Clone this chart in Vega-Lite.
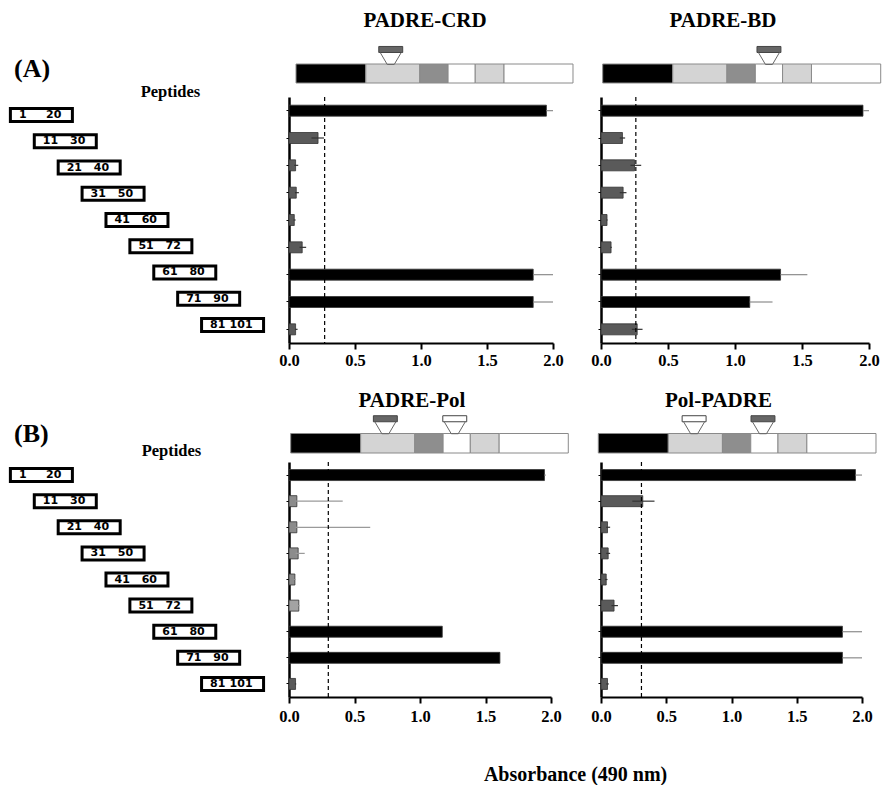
{
  "$schema": "https://vega.github.io/schema/vega-lite/v6.json",
  "background": "white",
  "padding": {"left": 8, "top": 10, "right": 2, "bottom": 2},
  "config": {"view": {"stroke": null}, "font": "Liberation Serif"},
  "title": {"text": "Absorbance (490 nm)", "orient": "bottom", "anchor": "middle", "dx": 131, "offset": 40, "fontSize": 20, "font": "Liberation Serif", "fontWeight": "bold", "color": "black"},
  "resolve": {"scale": {"fill": "independent"}},
  "datasets": {
    "peptides": [
      {"pep": "1-20", "start": 1, "end": 20},
      {"pep": "11-30", "start": 11, "end": 30},
      {"pep": "21-40", "start": 21, "end": 40},
      {"pep": "31-50", "start": 31, "end": 50},
      {"pep": "41-60", "start": 41, "end": 60},
      {"pep": "51-72", "start": 51, "end": 72},
      {"pep": "61-80", "start": 61, "end": 80},
      {"pep": "71-90", "start": 71, "end": 90},
      {"pep": "81-101", "start": 81, "end": 101}
    ],
    "bars": [
      {"panel": "PADRE-CRD", "pep": "1-20", "value": 1.95, "lo": 1.95, "hi": 2.0, "shade": "pos"},
      {"panel": "PADRE-CRD", "pep": "11-30", "value": 0.22, "lo": 0.17, "hi": 0.265, "shade": "neg"},
      {"panel": "PADRE-CRD", "pep": "21-40", "value": 0.05, "lo": 0.04, "hi": 0.07, "shade": "neg"},
      {"panel": "PADRE-CRD", "pep": "31-50", "value": 0.055, "lo": 0.045, "hi": 0.075, "shade": "neg"},
      {"panel": "PADRE-CRD", "pep": "41-60", "value": 0.04, "lo": 0.035, "hi": 0.05, "shade": "neg"},
      {"panel": "PADRE-CRD", "pep": "51-72", "value": 0.1, "lo": 0.08, "hi": 0.13, "shade": "neg"},
      {"panel": "PADRE-CRD", "pep": "61-80", "value": 1.85, "lo": 1.85, "hi": 2.0, "shade": "pos"},
      {"panel": "PADRE-CRD", "pep": "71-90", "value": 1.85, "lo": 1.85, "hi": 2.0, "shade": "pos"},
      {"panel": "PADRE-CRD", "pep": "81-101", "value": 0.05, "lo": 0.045, "hi": 0.065, "shade": "neg"},
      {"panel": "PADRE-BD", "pep": "1-20", "value": 1.955, "lo": 1.955, "hi": 2.0, "shade": "pos"},
      {"panel": "PADRE-BD", "pep": "11-30", "value": 0.16, "lo": 0.14, "hi": 0.18, "shade": "neg"},
      {"panel": "PADRE-BD", "pep": "21-40", "value": 0.25, "lo": 0.22, "hi": 0.3, "shade": "neg"},
      {"panel": "PADRE-BD", "pep": "31-50", "value": 0.165, "lo": 0.14, "hi": 0.19, "shade": "neg"},
      {"panel": "PADRE-BD", "pep": "41-60", "value": 0.045, "lo": 0.04, "hi": 0.05, "shade": "neg"},
      {"panel": "PADRE-BD", "pep": "51-72", "value": 0.075, "lo": 0.07, "hi": 0.08, "shade": "neg"},
      {"panel": "PADRE-BD", "pep": "61-80", "value": 1.34, "lo": 1.34, "hi": 1.54, "shade": "pos"},
      {"panel": "PADRE-BD", "pep": "71-90", "value": 1.11, "lo": 1.11, "hi": 1.28, "shade": "pos"},
      {"panel": "PADRE-BD", "pep": "81-101", "value": 0.27, "lo": 0.23, "hi": 0.31, "shade": "neg"},
      {"panel": "PADRE-Pol", "pep": "1-20", "value": 1.95, "lo": 1.95, "hi": 1.96, "shade": "pos"},
      {"panel": "PADRE-Pol", "pep": "11-30", "value": 0.06, "lo": 0.05, "hi": 0.41, "shade": "neg2"},
      {"panel": "PADRE-Pol", "pep": "21-40", "value": 0.06, "lo": 0.05, "hi": 0.62, "shade": "neg2"},
      {"panel": "PADRE-Pol", "pep": "31-50", "value": 0.07, "lo": 0.05, "hi": 0.12, "shade": "neg2"},
      {"panel": "PADRE-Pol", "pep": "41-60", "value": 0.045, "lo": 0.04, "hi": 0.05, "shade": "neg2"},
      {"panel": "PADRE-Pol", "pep": "51-72", "value": 0.075, "lo": 0.07, "hi": 0.08, "shade": "neg3"},
      {"panel": "PADRE-Pol", "pep": "61-80", "value": 1.17, "lo": 1.17, "hi": 1.17, "shade": "pos"},
      {"panel": "PADRE-Pol", "pep": "71-90", "value": 1.61, "lo": 1.61, "hi": 1.61, "shade": "pos"},
      {"panel": "PADRE-Pol", "pep": "81-101", "value": 0.05, "lo": 0.045, "hi": 0.055, "shade": "neg"},
      {"panel": "Pol-PADRE", "pep": "1-20", "value": 1.95, "lo": 1.95, "hi": 2.0, "shade": "pos"},
      {"panel": "Pol-PADRE", "pep": "11-30", "value": 0.32, "lo": 0.24, "hi": 0.41, "shade": "neg"},
      {"panel": "Pol-PADRE", "pep": "21-40", "value": 0.05, "lo": 0.04, "hi": 0.07, "shade": "neg"},
      {"panel": "Pol-PADRE", "pep": "31-50", "value": 0.055, "lo": 0.04, "hi": 0.07, "shade": "neg"},
      {"panel": "Pol-PADRE", "pep": "41-60", "value": 0.04, "lo": 0.03, "hi": 0.05, "shade": "neg"},
      {"panel": "Pol-PADRE", "pep": "51-72", "value": 0.1, "lo": 0.08, "hi": 0.13, "shade": "neg"},
      {"panel": "Pol-PADRE", "pep": "61-80", "value": 1.85, "lo": 1.85, "hi": 2.0, "shade": "pos"},
      {"panel": "Pol-PADRE", "pep": "71-90", "value": 1.85, "lo": 1.85, "hi": 2.0, "shade": "pos"},
      {"panel": "Pol-PADRE", "pep": "81-101", "value": 0.05, "lo": 0.04, "hi": 0.06, "shade": "neg"}
    ],
    "cutoffs": [
      {"panel": "PADRE-CRD", "cutoff": 0.27},
      {"panel": "PADRE-BD", "cutoff": 0.26},
      {"panel": "PADRE-Pol", "cutoff": 0.3},
      {"panel": "Pol-PADRE", "cutoff": 0.31}
    ],
    "segments": [
      {"from": 0, "to": 25.2, "shade": "black"},
      {"from": 25.2, "to": 44.7, "shade": "light"},
      {"from": 44.7, "to": 54.9, "shade": "mid"},
      {"from": 54.9, "to": 64.7, "shade": "white"},
      {"from": 64.7, "to": 75.1, "shade": "light"},
      {"from": 75.1, "to": 100, "shade": "white"}
    ],
    "markers": [
      {"panel": "PADRE-CRD", "kind": "PADRE", "pos": 34.2},
      {"panel": "PADRE-BD", "kind": "PADRE", "pos": 59.8},
      {"panel": "PADRE-Pol", "kind": "PADRE", "pos": 34.1},
      {"panel": "PADRE-Pol", "kind": "Pol", "pos": 59.1},
      {"panel": "Pol-PADRE", "kind": "Pol", "pos": 34.5},
      {"panel": "Pol-PADRE", "kind": "PADRE", "pos": 59.3}
    ]
  },
  "columns": 3,
  "align": "each",
  "bounds": "flush",
  "spacing": {"row": 9, "column": 48},
  "concat": [
    {"width": 233, "height": 10, "data": {"values": [{}]}, "mark": {"type": "text"}, "encoding": {"text": {"value": ""}}},
    {
      "width": 264, "height": 41,
      "title": {"text": "PADRE-CRD", "font": "Liberation Serif", "fontSize": 21, "fontWeight": "bold", "color": "black", "frame": "group", "anchor": "middle", "dx": 4, "offset": -4, "baseline": "alphabetic"},
      "layer": [
        {"data": {"name": "segments"}, "mark": {"type": "rect", "stroke": "#8a8a8a", "strokeWidth": 1},
         "encoding": {
           "x": {"field": "from", "type": "quantitative", "scale": {"domain": [-2.53, 92.78], "nice": false, "zero": false}, "axis": null},
           "x2": {"field": "to"},
           "y": {"datum": 0, "type": "quantitative", "scale": {"domain": [-0.263, 1.895], "nice": false, "zero": false}, "axis": null},
           "y2": {"datum": 1},
           "fill": {"field": "shade", "type": "nominal", "scale": {"domain": ["black", "light", "mid", "white"], "range": ["#000000", "#d4d4d4", "#8e8e8e", "#ffffff"]}, "legend": null}}},
        {"data": {"name": "markers"}, "transform": [{"filter": "datum.panel === 'PADRE-CRD'"}],
         "mark": {"type": "point", "shape": "M-1.33,-1L1.33,-1L1.33,-0.33L-1.33,-0.33Z", "size": 324, "filled": true, "opacity": 1, "stroke": "#444444", "strokeWidth": 1},
         "encoding": {"x": {"field": "pos", "type": "quantitative"}, "y": {"datum": 1.45, "type": "quantitative"},
           "color": {"field": "kind", "type": "nominal", "scale": {"domain": ["PADRE", "Pol"], "range": ["#666666", "#ffffff"]}, "legend": null}}},
        {"data": {"name": "markers"}, "transform": [{"filter": "datum.panel === 'PADRE-CRD'"}],
         "mark": {"type": "point", "shape": "M-1.17,-0.33L-0.39,1L0.39,1L1.17,-0.33", "size": 324, "filled": false, "opacity": 1, "stroke": "#666666", "strokeWidth": 1},
         "encoding": {"x": {"field": "pos", "type": "quantitative"}, "y": {"datum": 1.45, "type": "quantitative"}}}
      ]
    },
    {
      "width": 268, "height": 41,
      "title": {"text": "PADRE-BD", "font": "Liberation Serif", "fontSize": 21, "fontWeight": "bold", "color": "black", "frame": "group", "anchor": "middle", "dx": -12, "offset": -4, "baseline": "alphabetic"},
      "layer": [
        {"data": {"name": "segments"}, "mark": {"type": "rect", "stroke": "#8a8a8a", "strokeWidth": 1},
         "encoding": {
           "x": {"field": "from", "type": "quantitative", "scale": {"domain": [-0.61, 95.79], "nice": false, "zero": false}, "axis": null},
           "x2": {"field": "to"},
           "y": {"datum": 0, "type": "quantitative", "scale": {"domain": [-0.263, 1.895], "nice": false, "zero": false}, "axis": null},
           "y2": {"datum": 1},
           "fill": {"field": "shade", "type": "nominal", "scale": {"domain": ["black", "light", "mid", "white"], "range": ["#000000", "#d4d4d4", "#8e8e8e", "#ffffff"]}, "legend": null}}},
        {"data": {"name": "markers"}, "transform": [{"filter": "datum.panel === 'PADRE-BD'"}],
         "mark": {"type": "point", "shape": "M-1.33,-1L1.33,-1L1.33,-0.33L-1.33,-0.33Z", "size": 324, "filled": true, "opacity": 1, "stroke": "#444444", "strokeWidth": 1},
         "encoding": {"x": {"field": "pos", "type": "quantitative"}, "y": {"datum": 1.45, "type": "quantitative"},
           "color": {"field": "kind", "type": "nominal", "scale": {"domain": ["PADRE", "Pol"], "range": ["#666666", "#ffffff"]}, "legend": null}}},
        {"data": {"name": "markers"}, "transform": [{"filter": "datum.panel === 'PADRE-BD'"}],
         "mark": {"type": "point", "shape": "M-1.17,-0.33L-0.39,1L0.39,1L1.17,-0.33", "size": 324, "filled": false, "opacity": 1, "stroke": "#666666", "strokeWidth": 1},
         "encoding": {"x": {"field": "pos", "type": "quantitative"}, "y": {"datum": 1.45, "type": "quantitative"}}}
      ]
    },
    {
      "width": 233, "height": 246,
      "data": {"name": "peptides"},
      "title": {"text": "(A)", "anchor": "start", "frame": "group", "dx": 6, "offset": -19, "fontSize": 26, "font": "Liberation Serif", "fontWeight": "bold", "color": "black", "baseline": "alphabetic"},
      "encoding": {"y": {"field": "pep", "type": "nominal", "sort": null, "scale": {"paddingInner": 0, "paddingOuter": 0.186}, "axis": null}},
      "layer": [
        {"mark": {"type": "bar", "height": 13, "fill": "white", "stroke": "black", "strokeWidth": 3, "x2Offset": 62},
         "encoding": {
           "x": {"field": "start", "type": "quantitative", "scale": {"domain": [0, 97.5], "nice": false, "zero": false},
                 "axis": {"orient": "top", "title": "Peptides", "titleX": 162, "titleY": -0.5, "titleAlign": "center", "titleBaseline": "alphabetic", "titleFont": "Liberation Serif", "titleFontSize": 16.5, "titleFontWeight": "bold", "titleColor": "black", "labels": false, "ticks": false, "domain": false, "grid": false}},
           "x2": {"field": "start"}}},
        {"mark": {"type": "text", "align": "left", "baseline": "middle", "dx": 8.5, "font": "DejaVu Sans", "fontWeight": "bold", "fontSize": 11, "color": "black"},
         "encoding": {"x": {"field": "start", "type": "quantitative"}, "text": {"field": "start"}}},
        {"mark": {"type": "text", "align": "right", "baseline": "middle", "dx": 51, "font": "DejaVu Sans", "fontWeight": "bold", "fontSize": 11, "color": "black"},
         "encoding": {"x": {"field": "start", "type": "quantitative"}, "text": {"field": "end"}}}
      ]
    },
    {
      "width": 264, "height": 246,
      "layer": [
        {"data": {"name": "bars"}, "transform": [{"filter": "datum.panel === 'PADRE-CRD'"}],
         "mark": {"type": "bar", "height": 11, "stroke": "#333333", "strokeWidth": 0.8},
         "encoding": {
           "y": {"field": "pep", "type": "nominal", "sort": null, "scale": {"paddingInner": 0, "paddingOuter": 0},
                 "axis": {"labels": false, "title": null, "domainColor": "black", "domainWidth": 2.5, "tickColor": "black", "tickSize": 3, "tickWidth": 1, "grid": false}},
           "x": {"field": "value", "type": "quantitative", "scale": {"domain": [0, 2], "nice": false},
                 "axis": {"values": [0, 0.5, 1, 1.5, 2], "format": ".1f", "title": null, "grid": false, "domainColor": "black", "domainWidth": 2, "tickColor": "black", "tickWidth": 2, "tickSize": 6, "labelFont": "Liberation Serif", "labelFontWeight": "bold", "labelFontSize": 16.5, "labelColor": "black", "labelPadding": 3, "labelFlush": false, "labelOverlap": false}},
           "fill": {"field": "shade", "type": "nominal", "scale": {"domain": ["pos", "neg", "neg2", "neg3"], "range": ["#000000", "#5a5a5a", "#8c8c8c", "#a3a3a3"]}, "legend": null}}},
        {"data": {"name": "bars"}, "transform": [{"filter": "datum.panel === 'PADRE-CRD'"}],
         "mark": {"type": "rule", "strokeWidth": 1.2},
         "encoding": {
           "y": {"field": "pep", "type": "nominal", "sort": null},
           "x": {"field": "lo", "type": "quantitative"}, "x2": {"field": "hi"},
           "stroke": {"field": "shade", "type": "nominal", "scale": {"domain": ["pos", "neg", "neg2", "neg3"], "range": ["#8c8c8c", "#333333", "#9a9a9a", "#9a9a9a"]}, "legend": null}}},
        {"data": {"name": "cutoffs"}, "transform": [{"filter": "datum.panel === 'PADRE-CRD'"}],
         "mark": {"type": "rule", "strokeDash": [4, 3], "color": "black", "strokeWidth": 1.2},
         "encoding": {"x": {"field": "cutoff", "type": "quantitative"}}}
      ]
    },
    {
      "width": 268, "height": 246,
      "layer": [
        {"data": {"name": "bars"}, "transform": [{"filter": "datum.panel === 'PADRE-BD'"}],
         "mark": {"type": "bar", "height": 11, "stroke": "#333333", "strokeWidth": 0.8},
         "encoding": {
           "y": {"field": "pep", "type": "nominal", "sort": null, "scale": {"paddingInner": 0, "paddingOuter": 0},
                 "axis": {"labels": false, "title": null, "domainColor": "black", "domainWidth": 2.5, "tickColor": "black", "tickSize": 3, "tickWidth": 1, "grid": false}},
           "x": {"field": "value", "type": "quantitative", "scale": {"domain": [0, 2], "nice": false},
                 "axis": {"values": [0, 0.5, 1, 1.5, 2], "format": ".1f", "title": null, "grid": false, "domainColor": "black", "domainWidth": 2, "tickColor": "black", "tickWidth": 2, "tickSize": 6, "labelFont": "Liberation Serif", "labelFontWeight": "bold", "labelFontSize": 16.5, "labelColor": "black", "labelPadding": 3, "labelFlush": false, "labelOverlap": false}},
           "fill": {"field": "shade", "type": "nominal", "scale": {"domain": ["pos", "neg", "neg2", "neg3"], "range": ["#000000", "#5a5a5a", "#8c8c8c", "#a3a3a3"]}, "legend": null}}},
        {"data": {"name": "bars"}, "transform": [{"filter": "datum.panel === 'PADRE-BD'"}],
         "mark": {"type": "rule", "strokeWidth": 1.2},
         "encoding": {
           "y": {"field": "pep", "type": "nominal", "sort": null},
           "x": {"field": "lo", "type": "quantitative"}, "x2": {"field": "hi"},
           "stroke": {"field": "shade", "type": "nominal", "scale": {"domain": ["pos", "neg", "neg2", "neg3"], "range": ["#8c8c8c", "#333333", "#9a9a9a", "#9a9a9a"]}, "legend": null}}},
        {"data": {"name": "cutoffs"}, "transform": [{"filter": "datum.panel === 'PADRE-BD'"}],
         "mark": {"type": "rule", "strokeDash": [4, 3], "color": "black", "strokeWidth": 1.2},
         "encoding": {"x": {"field": "cutoff", "type": "quantitative"}}}
      ]
    },
    {"width": 233, "height": 10, "data": {"values": [{}]}, "mark": {"type": "text"}, "encoding": {"text": {"value": ""}}},
    {
      "width": 262, "height": 101,
      "title": {"text": "PADRE-Pol", "font": "Liberation Serif", "fontSize": 21, "fontWeight": "bold", "color": "black", "frame": "group", "anchor": "middle", "dx": -8, "dy": 72, "offset": -4, "baseline": "alphabetic"},
      "layer": [
        {"data": {"name": "segments"}, "mark": {"type": "rect", "stroke": "#8a8a8a", "strokeWidth": 1},
         "encoding": {
           "x": {"field": "from", "type": "quantitative", "scale": {"domain": [-0.61, 93.77], "nice": false, "zero": false}, "axis": null},
           "x2": {"field": "to"},
           "y": {"datum": 0, "type": "quantitative", "scale": {"domain": [0, 5.18], "nice": false, "zero": false}, "axis": null},
           "y2": {"datum": 1},
           "fill": {"field": "shade", "type": "nominal", "scale": {"domain": ["black", "light", "mid", "white"], "range": ["#000000", "#d4d4d4", "#8e8e8e", "#ffffff"]}, "legend": null}}},
        {"data": {"name": "markers"}, "transform": [{"filter": "datum.panel === 'PADRE-Pol'"}],
         "mark": {"type": "point", "shape": "M-1.33,-1L1.33,-1L1.33,-0.33L-1.33,-0.33Z", "size": 324, "filled": true, "opacity": 1, "stroke": "#444444", "strokeWidth": 1},
         "encoding": {"x": {"field": "pos", "type": "quantitative"}, "y": {"datum": 1.45, "type": "quantitative"},
           "color": {"field": "kind", "type": "nominal", "scale": {"domain": ["PADRE", "Pol"], "range": ["#666666", "#ffffff"]}, "legend": null}}},
        {"data": {"name": "markers"}, "transform": [{"filter": "datum.panel === 'PADRE-Pol'"}],
         "mark": {"type": "point", "shape": "M-1.17,-0.33L-0.39,1L0.39,1L1.17,-0.33", "size": 324, "filled": false, "opacity": 1, "stroke": "#666666", "strokeWidth": 1},
         "encoding": {"x": {"field": "pos", "type": "quantitative"}, "y": {"datum": 1.45, "type": "quantitative"}}}
      ]
    },
    {
      "width": 261, "height": 101,
      "title": {"text": "Pol-PADRE", "font": "Liberation Serif", "fontSize": 21, "fontWeight": "bold", "color": "black", "frame": "group", "anchor": "middle", "dx": -13, "dy": 72, "offset": -4, "baseline": "alphabetic"},
      "layer": [
        {"data": {"name": "segments"}, "mark": {"type": "rect", "stroke": "#8a8a8a", "strokeWidth": 1},
         "encoding": {
           "x": {"field": "from", "type": "quantitative", "scale": {"domain": [0.97, 94.96], "nice": false, "zero": false}, "axis": null},
           "x2": {"field": "to"},
           "y": {"datum": 0, "type": "quantitative", "scale": {"domain": [0, 5.18], "nice": false, "zero": false}, "axis": null},
           "y2": {"datum": 1},
           "fill": {"field": "shade", "type": "nominal", "scale": {"domain": ["black", "light", "mid", "white"], "range": ["#000000", "#d4d4d4", "#8e8e8e", "#ffffff"]}, "legend": null}}},
        {"data": {"name": "markers"}, "transform": [{"filter": "datum.panel === 'Pol-PADRE'"}],
         "mark": {"type": "point", "shape": "M-1.33,-1L1.33,-1L1.33,-0.33L-1.33,-0.33Z", "size": 324, "filled": true, "opacity": 1, "stroke": "#444444", "strokeWidth": 1},
         "encoding": {"x": {"field": "pos", "type": "quantitative"}, "y": {"datum": 1.45, "type": "quantitative"},
           "color": {"field": "kind", "type": "nominal", "scale": {"domain": ["PADRE", "Pol"], "range": ["#666666", "#ffffff"]}, "legend": null}}},
        {"data": {"name": "markers"}, "transform": [{"filter": "datum.panel === 'Pol-PADRE'"}],
         "mark": {"type": "point", "shape": "M-1.17,-0.33L-0.39,1L0.39,1L1.17,-0.33", "size": 324, "filled": false, "opacity": 1, "stroke": "#666666", "strokeWidth": 1},
         "encoding": {"x": {"field": "pos", "type": "quantitative"}, "y": {"datum": 1.45, "type": "quantitative"}}}
      ]
    },
    {
      "width": 233, "height": 235,
      "data": {"name": "peptides"},
      "title": {"text": "(B)", "anchor": "start", "frame": "group", "dx": 6, "offset": -26, "fontSize": 26, "font": "Liberation Serif", "fontWeight": "bold", "color": "black", "baseline": "alphabetic"},
      "encoding": {"y": {"field": "pep", "type": "nominal", "sort": null, "scale": {"paddingInner": 0, "paddingOuter": 0}, "axis": null}},
      "layer": [
        {"mark": {"type": "bar", "height": 13, "fill": "white", "stroke": "black", "strokeWidth": 3, "x2Offset": 62},
         "encoding": {
           "x": {"field": "start", "type": "quantitative", "scale": {"domain": [0, 97.5], "nice": false, "zero": false},
                 "axis": {"orient": "top", "title": "Peptides", "titleX": 163, "titleY": -7, "titleAlign": "center", "titleBaseline": "alphabetic", "titleFont": "Liberation Serif", "titleFontSize": 16.5, "titleFontWeight": "bold", "titleColor": "black", "labels": false, "ticks": false, "domain": false, "grid": false}},
           "x2": {"field": "start"}}},
        {"mark": {"type": "text", "align": "left", "baseline": "middle", "dx": 8.5, "font": "DejaVu Sans", "fontWeight": "bold", "fontSize": 11, "color": "black"},
         "encoding": {"x": {"field": "start", "type": "quantitative"}, "text": {"field": "start"}}},
        {"mark": {"type": "text", "align": "right", "baseline": "middle", "dx": 51, "font": "DejaVu Sans", "fontWeight": "bold", "fontSize": 11, "color": "black"},
         "encoding": {"x": {"field": "start", "type": "quantitative"}, "text": {"field": "end"}}}
      ]
    },
    {
      "width": 262, "height": 235,
      "layer": [
        {"data": {"name": "bars"}, "transform": [{"filter": "datum.panel === 'PADRE-Pol'"}],
         "mark": {"type": "bar", "height": 11, "stroke": "#333333", "strokeWidth": 0.8},
         "encoding": {
           "y": {"field": "pep", "type": "nominal", "sort": null, "scale": {"paddingInner": 0, "paddingOuter": 0},
                 "axis": {"labels": false, "title": null, "domainColor": "black", "domainWidth": 2.5, "tickColor": "black", "tickSize": 3, "tickWidth": 1, "grid": false}},
           "x": {"field": "value", "type": "quantitative", "scale": {"domain": [0, 2], "nice": false},
                 "axis": {"values": [0, 0.5, 1, 1.5, 2], "format": ".1f", "title": null, "grid": false, "domainColor": "black", "domainWidth": 2, "tickColor": "black", "tickWidth": 2, "tickSize": 6, "labelFont": "Liberation Serif", "labelFontWeight": "bold", "labelFontSize": 16.5, "labelColor": "black", "labelPadding": 5, "labelFlush": false, "labelOverlap": false}},
           "fill": {"field": "shade", "type": "nominal", "scale": {"domain": ["pos", "neg", "neg2", "neg3"], "range": ["#000000", "#5a5a5a", "#8c8c8c", "#a3a3a3"]}, "legend": null}}},
        {"data": {"name": "bars"}, "transform": [{"filter": "datum.panel === 'PADRE-Pol'"}],
         "mark": {"type": "rule", "strokeWidth": 1.2},
         "encoding": {
           "y": {"field": "pep", "type": "nominal", "sort": null},
           "x": {"field": "lo", "type": "quantitative"}, "x2": {"field": "hi"},
           "stroke": {"field": "shade", "type": "nominal", "scale": {"domain": ["pos", "neg", "neg2", "neg3"], "range": ["#8c8c8c", "#333333", "#9a9a9a", "#9a9a9a"]}, "legend": null}}},
        {"data": {"name": "cutoffs"}, "transform": [{"filter": "datum.panel === 'PADRE-Pol'"}],
         "mark": {"type": "rule", "strokeDash": [4, 3], "color": "black", "strokeWidth": 1.2},
         "encoding": {"x": {"field": "cutoff", "type": "quantitative"}}}
      ]
    },
    {
      "width": 261, "height": 235,
      "layer": [
        {"data": {"name": "bars"}, "transform": [{"filter": "datum.panel === 'Pol-PADRE'"}],
         "mark": {"type": "bar", "height": 11, "stroke": "#333333", "strokeWidth": 0.8},
         "encoding": {
           "y": {"field": "pep", "type": "nominal", "sort": null, "scale": {"paddingInner": 0, "paddingOuter": 0},
                 "axis": {"labels": false, "title": null, "domainColor": "black", "domainWidth": 2.5, "tickColor": "black", "tickSize": 3, "tickWidth": 1, "grid": false}},
           "x": {"field": "value", "type": "quantitative", "scale": {"domain": [0, 2], "nice": false},
                 "axis": {"values": [0, 0.5, 1, 1.5, 2], "format": ".1f", "title": null, "grid": false, "domainColor": "black", "domainWidth": 2, "tickColor": "black", "tickWidth": 2, "tickSize": 6, "labelFont": "Liberation Serif", "labelFontWeight": "bold", "labelFontSize": 16.5, "labelColor": "black", "labelPadding": 5, "labelFlush": false, "labelOverlap": false}},
           "fill": {"field": "shade", "type": "nominal", "scale": {"domain": ["pos", "neg", "neg2", "neg3"], "range": ["#000000", "#5a5a5a", "#8c8c8c", "#a3a3a3"]}, "legend": null}}},
        {"data": {"name": "bars"}, "transform": [{"filter": "datum.panel === 'Pol-PADRE'"}],
         "mark": {"type": "rule", "strokeWidth": 1.2},
         "encoding": {
           "y": {"field": "pep", "type": "nominal", "sort": null},
           "x": {"field": "lo", "type": "quantitative"}, "x2": {"field": "hi"},
           "stroke": {"field": "shade", "type": "nominal", "scale": {"domain": ["pos", "neg", "neg2", "neg3"], "range": ["#8c8c8c", "#333333", "#9a9a9a", "#9a9a9a"]}, "legend": null}}},
        {"data": {"name": "cutoffs"}, "transform": [{"filter": "datum.panel === 'Pol-PADRE'"}],
         "mark": {"type": "rule", "strokeDash": [4, 3], "color": "black", "strokeWidth": 1.2},
         "encoding": {"x": {"field": "cutoff", "type": "quantitative"}}}
      ]
    }
  ]
}
